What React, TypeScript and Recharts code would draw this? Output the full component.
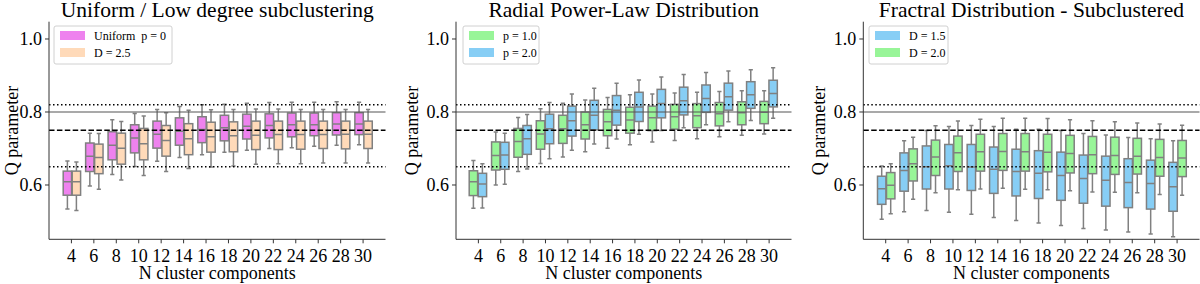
import React from 'react';
import { ComposedChart, Bar, XAxis, YAxis, ReferenceLine } from 'recharts';

const FONT = '"Liberation Serif", "Times New Roman", serif';

const N_LABELS = ['4', '6', '8', '10', '12', '14', '16', '18', '20', '22', '24', '26', '28', '30'];
const Y_TICKS = [0.6, 0.8, 1.0];

// Panel 1: Uniform p = 0
const uniHi = [0.666, 0.742, 0.779, 0.796, 0.807, 0.815, 0.82, 0.821, 0.824, 0.826, 0.827, 0.827, 0.828, 0.827];
const uniQ3 = [0.638, 0.715, 0.746, 0.765, 0.775, 0.784, 0.787, 0.791, 0.794, 0.795, 0.797, 0.797, 0.798, 0.798];
const uniMed = [0.609, 0.679, 0.709, 0.729, 0.739, 0.747, 0.752, 0.757, 0.761, 0.763, 0.765, 0.765, 0.767, 0.767];
const uniQ1 = [0.572, 0.637, 0.669, 0.688, 0.701, 0.709, 0.716, 0.721, 0.726, 0.729, 0.732, 0.735, 0.737, 0.738];
const uniLo = [0.534, 0.597, 0.629, 0.651, 0.665, 0.675, 0.683, 0.69, 0.695, 0.7, 0.702, 0.706, 0.709, 0.71];

// Panel 1: D = 2.5
const d25Hi = [0.663, 0.741, 0.774, 0.789, 0.798, 0.805, 0.806, 0.807, 0.808, 0.808, 0.807, 0.807, 0.807, 0.807];
const d25Q3 = [0.638, 0.712, 0.742, 0.755, 0.763, 0.768, 0.772, 0.773, 0.775, 0.775, 0.775, 0.775, 0.775, 0.775];
const d25Med = [0.609, 0.675, 0.701, 0.713, 0.722, 0.727, 0.732, 0.735, 0.736, 0.738, 0.738, 0.738, 0.739, 0.739];
const d25Q1 = [0.572, 0.631, 0.657, 0.669, 0.679, 0.683, 0.69, 0.691, 0.697, 0.697, 0.698, 0.7, 0.699, 0.7];
const d25Lo = [0.53, 0.588, 0.614, 0.626, 0.637, 0.645, 0.649, 0.652, 0.657, 0.658, 0.658, 0.66, 0.66, 0.66];

// Panel 2: p = 1.0
const p10Hi = [0.667, 0.745, 0.785, 0.809, 0.824, 0.833, 0.84, 0.847, 0.849, 0.852, 0.854, 0.856, 0.858, 0.858];
const p10Q3 = [0.639, 0.718, 0.755, 0.776, 0.791, 0.8, 0.807, 0.813, 0.816, 0.821, 0.823, 0.826, 0.828, 0.829];
const p10Med = [0.609, 0.681, 0.719, 0.74, 0.754, 0.765, 0.773, 0.778, 0.784, 0.787, 0.79, 0.795, 0.798, 0.799];
const p10Q1 = [0.571, 0.641, 0.676, 0.698, 0.714, 0.726, 0.735, 0.742, 0.749, 0.753, 0.757, 0.762, 0.765, 0.768];
const p10Lo = [0.536, 0.6, 0.637, 0.659, 0.677, 0.691, 0.701, 0.71, 0.718, 0.722, 0.727, 0.732, 0.736, 0.74];

// Panel 2: p = 2.0
const p20Hi = [0.658, 0.742, 0.793, 0.826, 0.849, 0.865, 0.879, 0.888, 0.896, 0.903, 0.908, 0.912, 0.916, 0.921];
const p20Q3 = [0.632, 0.717, 0.763, 0.794, 0.816, 0.832, 0.845, 0.854, 0.862, 0.868, 0.874, 0.879, 0.883, 0.887];
const p20Med = [0.603, 0.682, 0.727, 0.754, 0.776, 0.791, 0.805, 0.814, 0.823, 0.831, 0.837, 0.842, 0.847, 0.851];
const p20Q1 = [0.568, 0.643, 0.684, 0.713, 0.734, 0.751, 0.764, 0.774, 0.784, 0.792, 0.799, 0.805, 0.81, 0.814];
const p20Lo = [0.537, 0.602, 0.644, 0.672, 0.695, 0.712, 0.726, 0.739, 0.749, 0.757, 0.765, 0.773, 0.777, 0.783];

// Panel 3: D = 1.5
const d15Hi = [0.652, 0.721, 0.749, 0.76, 0.763, 0.76, 0.753, 0.753, 0.749, 0.741, 0.737, 0.73, 0.727, 0.721];
const d15Q3 = [0.624, 0.688, 0.707, 0.711, 0.711, 0.704, 0.698, 0.694, 0.69, 0.682, 0.679, 0.672, 0.668, 0.662];
const d15Med = [0.59, 0.64, 0.65, 0.653, 0.649, 0.643, 0.637, 0.632, 0.626, 0.618, 0.613, 0.607, 0.604, 0.595];
const d15Q1 = [0.547, 0.583, 0.589, 0.589, 0.585, 0.577, 0.57, 0.563, 0.558, 0.55, 0.542, 0.538, 0.534, 0.528];
const d15Lo = [0.506, 0.527, 0.53, 0.525, 0.52, 0.511, 0.503, 0.496, 0.489, 0.481, 0.477, 0.471, 0.466, 0.458];

// Panel 3: D = 2.0
const d20Hi = [0.658, 0.731, 0.762, 0.775, 0.78, 0.783, 0.783, 0.782, 0.779, 0.776, 0.773, 0.77, 0.767, 0.764];
const d20Q3 = [0.634, 0.699, 0.723, 0.734, 0.739, 0.741, 0.741, 0.739, 0.736, 0.733, 0.731, 0.728, 0.725, 0.722];
const d20Med = [0.599, 0.658, 0.677, 0.688, 0.691, 0.692, 0.691, 0.69, 0.686, 0.683, 0.681, 0.679, 0.675, 0.674];
const d20Q1 = [0.562, 0.611, 0.626, 0.637, 0.638, 0.64, 0.638, 0.636, 0.633, 0.631, 0.629, 0.63, 0.624, 0.623];
const d20Lo = [0.521, 0.561, 0.579, 0.587, 0.589, 0.591, 0.588, 0.587, 0.584, 0.581, 0.58, 0.579, 0.574, 0.572];

const REF_LINES = [0.82, 0.8, 0.75, 0.65];

const C_VIOLET = '#EE82EE';
const C_PEACH = '#FFDAB9';
const C_GREEN = '#98F598';
const C_BLUE = '#87CEF5';
const EDGE = '#808080';
const SPINE = '#333333';

type Stats = { lo: number[]; q1: number[]; med: number[]; q3: number[]; hi: number[] };

function buildRows(a: Stats, b: Stats) {
  return N_LABELS.map((n, i) => ({
    n,
    aLo: a.lo[i], aQ1: a.q1[i], aMed: a.med[i], aQ3: a.q3[i], aHi: a.hi[i],
    bLo: b.lo[i], bQ1: b.q1[i], bMed: b.med[i], bQ3: b.q3[i], bHi: b.hi[i],
  }));
}

function makeBoxShape(prefix: string, fill: string) {
  return (props: any) => {
    const { x, y, width, height, payload } = props;
    if (x == null || y == null || !payload) return <g />;
    const q1 = payload[prefix + 'Q1'];
    const q3 = payload[prefix + 'Q3'];
    const med = payload[prefix + 'Med'];
    const lo = payload[prefix + 'Lo'];
    const hi = payload[prefix + 'Hi'];
    const top = Math.min(y, y + height);
    const h = Math.abs(height);
    const k = h / (q3 - q1);
    const py = (v: number) => top + (q3 - v) * k;
    const cx = x + width / 2;
    const cap = width / 4;
    const sw = 1.5;
    return (
      <g>
        <line x1={cx} x2={cx} y1={py(hi)} y2={top} stroke={EDGE} strokeWidth={sw} />
        <line x1={cx} x2={cx} y1={top + h} y2={py(lo)} stroke={EDGE} strokeWidth={sw} />
        <line x1={cx - cap} x2={cx + cap} y1={py(hi)} y2={py(hi)} stroke={EDGE} strokeWidth={sw} />
        <line x1={cx - cap} x2={cx + cap} y1={py(lo)} y2={py(lo)} stroke={EDGE} strokeWidth={sw} />
        <rect x={x} y={top} width={width} height={h} fill={fill} stroke={EDGE} strokeWidth={sw} />
        <line x1={x} x2={x + width} y1={py(med)} y2={py(med)} stroke={EDGE} strokeWidth={sw} />
      </g>
    );
  };
}

type PanelProps = {
  left: number;
  plotLeft: number;
  plotRight: number;
  a: Stats;
  b: Stats;
  colorA: string;
  colorB: string;
};

const TOP = 21.7;
const BOTTOM = 239.3;
const CH = 284;
const CW = 400;
const YW = 40;
const XH = 30;

function Panel({ left, plotLeft, plotRight, a, b, colorA, colorB }: PanelProps) {
  const rows = buildRows(a, b);
  const ml = plotLeft - left - YW;
  const mr = left + CW - plotRight;
  const mb = CH - BOTTOM - XH;
  const tickStyle = { fontFamily: FONT, fontSize: 18, fill: '#000' };
  return (
    <div style={{ position: 'absolute', left, top: 0, width: CW, height: CH }}>
      <ComposedChart
        width={CW}
        height={CH}
        data={rows}
        margin={{ top: TOP, right: mr, bottom: mb, left: ml }}
        barSize={8.4}
        barGap={0.6}
      >
        <XAxis
          dataKey="n"
          height={XH}
          interval={0}
          padding={{ left: 11.2, right: 11.2 }}
          tickSize={4}
          tickMargin={6}
          tick={tickStyle}
          axisLine={{ stroke: SPINE, strokeWidth: 1 }}
          tickLine={{ stroke: SPINE, strokeWidth: 1 }}
        />
        <XAxis
          xAxisId="top"
          orientation="top"
          dataKey="n"
          height={0}
          tick={false}
          tickLine={false}
          axisLine={{ stroke: SPINE, strokeWidth: 1 }}
        />
        <YAxis
          type="number"
          domain={[0.4512, 1.0474]}
          allowDataOverflow
          ticks={Y_TICKS}
          width={YW}
          tickSize={4}
          tickMargin={3}
          tick={tickStyle}
          tickFormatter={(v: number) => v.toFixed(1)}
          axisLine={{ stroke: SPINE, strokeWidth: 1 }}
          tickLine={{ stroke: SPINE, strokeWidth: 1 }}
        />
        <YAxis
          yAxisId="right"
          orientation="right"
          width={0}
          tick={false}
          tickLine={false}
          axisLine={{ stroke: SPINE, strokeWidth: 1 }}
        />
        <Bar
          dataKey={(d: any) => [d.aQ1, d.aQ3]}
          fill={colorA}
          isAnimationActive={false}
          shape={makeBoxShape('a', colorA)}
        />
        <Bar
          dataKey={(d: any) => [d.bQ1, d.bQ3]}
          fill={colorB}
          isAnimationActive={false}
          shape={makeBoxShape('b', colorB)}
        />
        <ReferenceLine y={REF_LINES[0]} stroke="#000" strokeWidth={1.5} strokeDasharray="1.5 2.5" />
        <ReferenceLine y={REF_LINES[1]} stroke="#555" strokeWidth={1.2} />
        <ReferenceLine y={REF_LINES[2]} stroke="#000" strokeWidth={1.5} strokeDasharray="5.5 2.4" />
        <ReferenceLine y={REF_LINES[3]} stroke="#000" strokeWidth={1.5} strokeDasharray="1.5 2.5" />
      </ComposedChart>
    </div>
  );
}

type LegendSpec = { x: number; w: number; items: { label: string; color: string }[] };

function LegendBox({ x, w, items }: LegendSpec) {
  const y = 26;
  return (
    <g>
      <rect x={x} y={y} width={w} height={38} rx={2} fill="#fff" fillOpacity={0.8} stroke="#d0d0d0" strokeWidth={1} />
      {items.map((it, i) => (
        <g key={i}>
          <rect x={x + 6} y={y + 5 + i * 17} width={25} height={9} fill={it.color} />
          <text
            x={x + 40}
            y={y + 14 + i * 17}
            fontFamily={FONT}
            fontSize={12}
            fill="#000"
            style={{ whiteSpace: 'pre' }}
          >
            {it.label}
          </text>
        </g>
      ))}
    </g>
  );
}

const TITLES = ['Uniform / Low degree subclustering', 'Radial Power-Law Distribution', 'Fractral Distribution - Subclustered'];
const Y_LABEL = 'Q parameter';
const X_LABEL = 'N cluster components';

export default function App() {
  const panels = [
    { left: 0, plotLeft: 49, plotRight: 385.5, yLabelX: 18, a: { lo: uniLo, q1: uniQ1, med: uniMed, q3: uniQ3, hi: uniHi }, b: { lo: d25Lo, q1: d25Q1, med: d25Med, q3: d25Q3, hi: d25Hi }, colorA: C_VIOLET, colorB: C_PEACH, legend: { x: 54, w: 118, items: [{ label: 'Uniform  p = 0', color: C_VIOLET }, { label: 'D = 2.5', color: C_PEACH }] } },
    { left: 400, plotLeft: 456, plotRight: 791.5, yLabelX: 418, a: { lo: p10Lo, q1: p10Q1, med: p10Med, q3: p10Q3, hi: p10Hi }, b: { lo: p20Lo, q1: p20Q1, med: p20Med, q3: p20Q3, hi: p20Hi }, colorA: C_GREEN, colorB: C_BLUE, legend: { x: 463, w: 76, items: [{ label: 'p = 1.0', color: C_GREEN }, { label: 'p = 2.0', color: C_BLUE }] } },
    { left: 800, plotLeft: 863.3, plotRight: 1199.5, yLabelX: 825, a: { lo: d15Lo, q1: d15Q1, med: d15Med, q3: d15Q3, hi: d15Hi }, b: { lo: d20Lo, q1: d20Q1, med: d20Med, q3: d20Q3, hi: d20Hi }, colorA: C_BLUE, colorB: C_GREEN, legend: { x: 869, w: 79, items: [{ label: 'D = 1.5', color: C_BLUE }, { label: 'D = 2.0', color: C_GREEN }] } },
  ];
  return (
    <div style={{ position: 'absolute', left: 0, top: 0, width: 1200, height: 284, background: '#fff', overflow: 'hidden' }}>
      {panels.map((p, i) => (
        <Panel key={i} left={p.left} plotLeft={p.plotLeft} plotRight={p.plotRight} a={p.a} b={p.b} colorA={p.colorA} colorB={p.colorB} />
      ))}
      <svg width={1200} height={284} style={{ position: 'absolute', left: 0, top: 0, pointerEvents: 'none' }}>
        {panels.map((p, i) => {
          const cx = (p.plotLeft + p.plotRight) / 2;
          return (
            <g key={i}>
              <text x={cx} y={16.7} textAnchor="middle" fontFamily={FONT} fontSize={21.5} fill="#000">{TITLES[i]}</text>
              <text x={cx} y={279.3} textAnchor="middle" fontFamily={FONT} fontSize={18} fill="#000">{X_LABEL}</text>
              <text transform={`translate(${p.yLabelX},${(TOP + BOTTOM) / 2}) rotate(-90)`} textAnchor="middle" fontFamily={FONT} fontSize={18} fill="#000">{Y_LABEL}</text>
              <LegendBox x={p.legend.x} w={p.legend.w} items={p.legend.items} />
            </g>
          );
        })}
      </svg>
    </div>
  );
}
